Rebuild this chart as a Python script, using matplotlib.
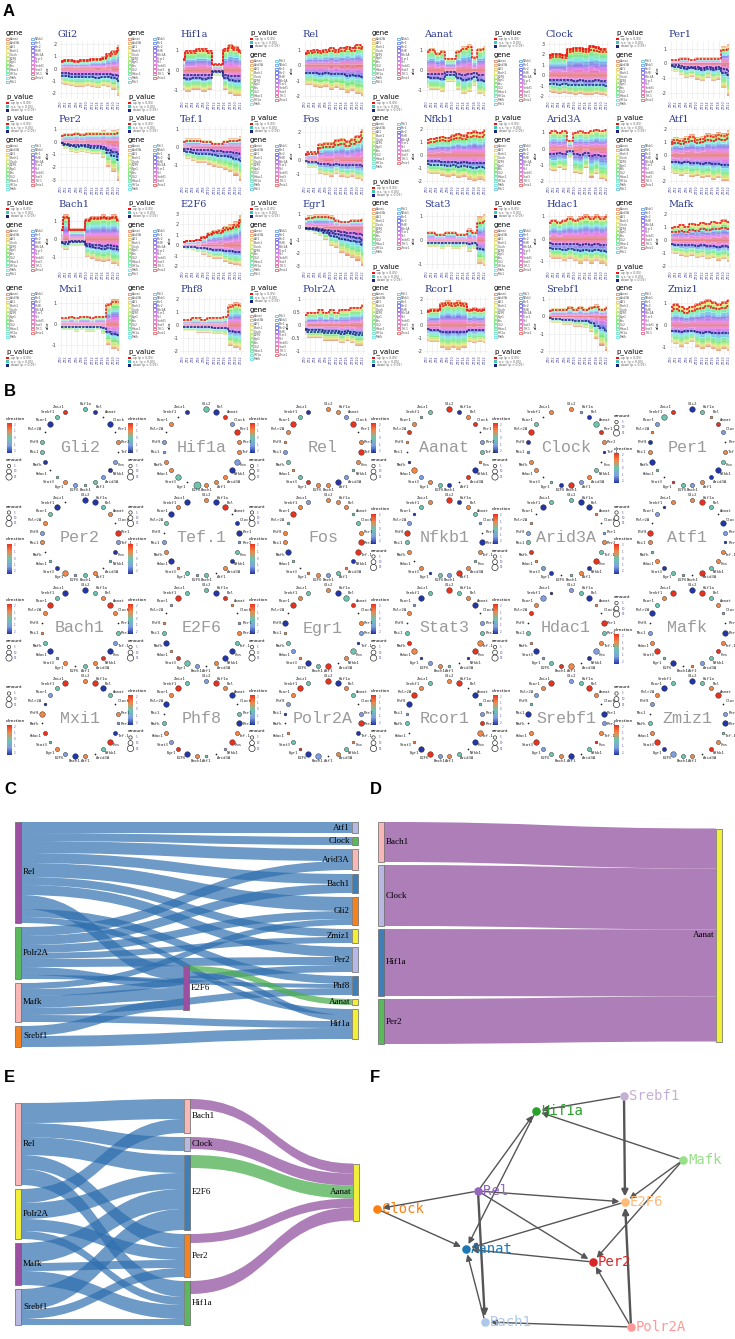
import colorsys
import numpy as np
import matplotlib
matplotlib.use("Agg")
import matplotlib.pyplot as plt
from matplotlib.patches import Rectangle, PathPatch, FancyArrowPatch
from matplotlib.path import Path
from matplotlib.colors import LinearSegmentedColormap

W, H = 735, 1339

# ---------------- data ----------------
genes = ["Gli2", "Hif1a", "Rel", "Aanat", "Clock", "Per1",
         "Per2", "Tef.1", "Fos", "Nfkb1", "Arid3A", "Atf1",
         "Bach1", "E2F6", "Egr1", "Stat3", "Hdac1", "Mafk",
         "Mxi1", "Phf8", "Polr2A", "Rcor1", "Srebf1", "Zmiz1"]
genes_alpha = sorted(genes, key=str.lower)

time_labels = ["ZT0", "ZT2", "ZT4", "ZT6", "ZT8", "ZT10",
               "ZT12", "ZT14", "ZT16", "ZT18", "ZT20", "ZT22"]
p_labels = ["up (p < 0.05)", "n.s. (p > 0.05)", "down (p < 0.05)"]

# panel A: stream envelopes (upper / lower edge) per time point
a_ticks = [[-2, -1, 0, 1, 2], [-1, 0, 1], [-2, -1, 0, 1], [-1, 0, 1], [-2, -1, 0, 1, 2, 3], [-2, -1, 0, 1],
           [-3, -2, -1, 0, 1], [-1, 0, 1], [-1, 0, 1, 2], [-2, -1, 0, 1, 2], [-2, -1, 0, 1], [-2, -1, 0, 1, 2],
           [-1, 0, 1], [-2, -1, 0, 1, 2, 3], [-3, -2, -1, 0, 1], [-1, 0, 1], [-1, 0, 1], [-2, -1, 0, 1, 2],
           [-1, 0, 1], [-2, -1, 0, 1, 2], [-1.0, -0.5, 0.0, 0.5, 1.0], [-2, -1, 0, 1, 2], [-2, -1, 0, 1], [-1, 0, 1]]
a_top = [
    [0.7, 0.8, 0.8, 0.7, 0.8, 0.8, 0.9, 0.9, 1.0, 1.3, 1.5, 1.9],
    [0.6, 1.0, 1.0, 1.1, 1.1, 1.0, 0.3, 0.3, 1.1, 1.3, 1.2, 1.0],
    [0.9, 1.0, 1.1, 1.0, 1.1, 1.2, 1.1, 1.2, 1.3, 1.2, 1.4, 1.3],
    [1.0, 1.1, 0.9, 1.0, 0.6, 0.6, 1.0, 1.2, 1.3, 0.7, 1.1, 1.2],
    [2.0, 2.1, 2.1, 2.0, 2.6, 2.7, 2.7, 2.6, 2.9, 2.8, 2.6, 2.6],
    [0.3, 0.3, 0.4, 0.4, 0.3, 0.4, 0.4, 0.4, 0.4, 0.4, 1.2, 1.3],
    [0.6, 0.7, 0.7, 0.8, 0.7, 0.8, 0.8, 0.8, 0.9, 0.8, 0.9, 1.0],
    [0.4, 0.5, 0.5, 0.5, 0.4, 0.4, 0.3, 0.3, 0.4, 0.5, 0.5, 0.6],
    [0.5, 0.6, 0.6, 1.2, 1.3, 1.3, 1.5, 1.6, 1.4, 1.6, 1.8, 2.2],
    [1.2, 1.3, 1.4, 1.5, 1.4, 1.6, 1.7, 1.6, 1.8, 1.9, 1.8, 2.0],
    [1.0, 1.1, 1.0, 1.1, 0.5, 1.0, 1.1, 1.0, 1.1, 1.2, 1.1, 1.2],
    [1.2, 1.4, 1.3, 1.5, 1.6, 1.4, 1.5, 1.7, 1.6, 1.8, 1.7, 1.9],
    [0.6, 1.4, 0.6, 0.6, 0.6, 1.2, 1.3, 1.3, 1.4, 1.3, 1.4, 1.2],
    [0.4, 0.5, 0.5, 0.6, 0.9, 1.3, 1.5, 1.6, 1.9, 2.0, 2.3, 2.9],
    [0.8, 0.9, 1.0, 1.0, 1.0, 0.9, 0.6, 0.5, 0.5, 0.6, 0.6, 0.7],
    [0.4, 0.4, 0.3, 0.3, 0.4, 0.4, 0.3, 0.3, 0.5, 0.4, 1.0, 1.1],
    [0.8, 0.9, 0.8, 0.9, 1.0, 0.9, 1.0, 1.1, 1.0, 1.1, 1.0, 1.1],
    [1.0, 1.1, 1.2, 1.1, 1.3, 1.2, 1.4, 1.3, 1.5, 1.4, 1.6, 1.5],
    [0.3, 0.3, 0.4, 0.3, 0.4, 0.4, 0.3, 0.4, 0.4, 1.0, 1.2, 1.2],
    [0.5, 0.5, 0.6, 0.6, 0.5, 0.6, 0.6, 0.6, 0.7, 1.6, 1.8, 1.7],
    [0.4, 0.5, 0.5, 0.6, 0.5, 0.6, 0.5, 0.6, 0.6, 0.7, 0.7, 0.8],
    [1.2, 1.3, 1.3, 1.8, 1.9, 1.8, 1.9, 1.8, 1.3, 1.4, 1.3, 1.4],
    [0.4, 0.5, 0.5, 0.5, 0.6, 0.5, 0.6, 0.5, 0.6, 0.7, 0.5, 0.6],
    [0.9, 1.0, 0.9, 0.8, 0.9, 1.0, 1.1, 1.2, 1.1, 1.0, 1.1, 1.2]]
a_bot = [
    [-1.2, -1.3, -1.4, -1.5, -1.5, -1.4, -1.5, -1.6, -1.4, -1.5, -1.7, -2.2],
    [-1.0, -1.1, -1.0, -1.0, -1.1, -1.0, -0.3, -0.3, -1.0, -1.2, -1.3, -1.3],
    [-1.3, -1.3, -1.4, -1.5, -1.4, -1.6, -1.5, -1.6, -1.8, -1.7, -1.9, -2.0],
    [-0.9, -1.0, -1.0, -1.1, -0.6, -0.6, -1.0, -1.2, -1.1, -0.8, -1.2, -1.3],
    [-1.6, -1.7, -1.8, -1.7, -1.8, -1.9, -1.8, -1.9, -1.9, -1.8, -1.9, -2.0],
    [-0.5, -0.6, -0.8, -1.0, -0.9, -1.1, -1.2, -1.0, -1.2, -1.1, -1.7, -2.2],
    [-0.3, -0.6, -0.8, -0.9, -0.8, -0.9, -1.0, -1.0, -1.3, -2.0, -2.4, -3.1],
    [-0.5, -0.7, -0.8, -0.9, -0.9, -1.0, -1.1, -1.2, -1.3, -1.4, -1.6, -1.9],
    [-0.4, -0.6, -0.6, -1.0, -1.1, -1.2, -1.0, -1.2, -1.3, -1.2, -1.4, -1.5],
    [-1.4, -1.5, -1.5, -1.6, -1.7, -1.6, -1.8, -1.7, -1.9, -2.0, -1.9, -2.0],
    [-1.3, -1.4, -1.2, -1.3, -0.6, -1.5, -1.6, -1.2, -1.8, -1.6, -1.9, -2.0],
    [-1.4, -1.5, -1.6, -1.5, -1.7, -1.6, -1.8, -1.7, -1.9, -1.8, -2.0, -2.0],
    [-0.5, -0.6, -0.4, -0.4, -0.4, -1.0, -1.1, -1.2, -1.3, -1.2, -1.4, -1.5],
    [-0.4, -0.5, -0.6, -0.7, -0.9, -1.1, -1.3, -1.3, -1.6, -1.8, -1.9, -2.0],
    [-0.3, -0.4, -0.5, -0.7, -1.0, -1.5, -1.6, -2.0, -2.2, -2.4, -2.6, -3.0],
    [-0.3, -0.3, -0.3, -0.4, -0.3, -0.4, -0.4, -0.3, -0.5, -0.4, -1.0, -1.1],
    [-0.8, -0.9, -0.9, -1.0, -0.9, -1.0, -1.1, -1.0, -1.1, -1.0, -1.1, -1.2],
    [-1.0, -1.1, -1.2, -1.3, -1.2, -1.4, -1.3, -1.5, -1.4, -1.6, -1.5, -1.7],
    [-0.3, -0.3, -0.3, -0.4, -0.3, -0.4, -0.4, -0.3, -0.5, -1.0, -1.2, -1.3],
    [-0.5, -0.5, -0.5, -0.6, -0.6, -0.6, -0.7, -0.7, -0.8, -1.6, -1.8, -1.9],
    [-0.4, -0.5, -0.5, -0.5, -0.6, -0.6, -0.6, -0.7, -0.6, -0.7, -0.8, -0.8],
    [-1.2, -1.3, -1.3, -1.8, -1.9, -1.8, -1.9, -1.8, -1.3, -1.4, -1.3, -1.4],
    [-0.3, -0.4, -0.4, -0.5, -0.5, -0.6, -0.6, -0.7, -0.9, -1.3, -1.7, -2.0],
    [-0.8, -0.9, -1.0, -0.9, -0.8, -1.0, -1.1, -1.0, -1.1, -1.2, -1.1, -1.2]]
layer_share = [1.0, 0.8, 1.2, 0.9, 1.1, 1.0, 0.7, 1.3, 0.9, 1.0, 1.1, 0.8,
               1.2, 1.0, 0.9, 1.1, 1.0, 0.8, 1.2, 0.9, 1.0, 1.1, 0.9]
# significant layers: up = counted from the upper edge, down = counted from zero downwards
a_red = [[2, 4], [1, 3], [1, 4], [2], [0, 1, 3], [5], [6], [8], [2, 6], [1, 5], [0], [3, 7],
         [2, 3], [3, 5], [4], [6], [2], [1, 9], [2], [3], [1], [2, 4], [5], [1, 6]]
a_blue = [[6, 10], [5, 9], [8], [4, 9], [6, 11], [5, 8], [7, 10], [4, 9], [6], [7, 11], [5], [8],
          [6, 9], [7], [4, 7, 10], [8], [5, 11], [7], [9], [6], [8, 11], [6], [9], [7]]
a_gene_first = [1, 1, 0, 1, 0, 0, 0, 0, 0, 1, 0, 0, 0, 0, 0, 1, 0, 1, 1, 1, 0, 1, 1, 1]

# panel B: direction class (B dark blue, l light blue, t teal, o orange, R red, k tiny) and amount class
b_dir = ["tBkBk oklBl ttlot kBttk BtR", "tBRlR oolBo ootkt oollk okB", "oolRk oRotl BooRt otloo RtB",
         "RBoRk ltoBR kBtol oBkoR ott", "olBtR oBkto lRBtk oolBR tko", "BtoRl kotBB oltRk tBoBo ltR",
         "BBtok RlBtk otloB tkolo tBk", "oBRkB BltBo ktlto Bolkt BoB", "ooott oRRBo tlook tBoot Rol",
         "RBotl kBoto RltBo kotRl Bto", "tBBok lotRB otkBl oRtlo kBt", "oRtkB lBoot RkltB otoRk lBo",
         "BtoRo ktlBR otkol Btoko RtB", "tBRok lotBB okltR oBtok lRt", "oBtRk olBto kRtBo ltoBk Rot",
         "RtoBk ltoRB ktolB oRtko lBt", "ltBok RtolB koRtl BotkR olB", "BRtol kBoRt lokBt RolkB toR",
         "oRBtk olBRt koBlo tRkoB ltR", "lRoBk tBoRl ktoBR lotkB oRt", "RBotk lRBot oklBR tokBl oRt",
         "oRkBt lRoBk tolRB oktlB Rot", "ltRok BloRt kBotl RokBt loR", "BtoRk lBtoR kotlB Rotkl oBt"]
b_size = ["22131 21222 21221 12221 322", "33223 22332 22413 22121 212", "22231 23212 32222 12212 322",
          "32221 22132 12222 31212 212", "21232 21122 23211 22123 212", "32122 12232 22212 13221 232",
          "33221 32212 22132 11222 232", "23312 31222 12121 32212 323", "22212 23321 22212 13221 322",
          "32221 13212 32212 12232 122", "23312 12232 21322 12221 132", "23213 21222 32122 21231 212",
          "32232 12232 22121 32122 323", "23212 12233 21232 13212 132", "23321 22132 13231 22131 322",
          "32231 22331 21221 32212 132", "22312 32232 13221 31212 231", "33221 13222 21231 32213 223",
          "23321 21232 12322 12131 223", "23231 23231 21232 22213 232", "33221 23212 21331 21312 232",
          "23131 22331 22233 12213 322", "22321 32212 13222 32131 223", "32231 23122 12232 32212 232"]
b_dir_first = [1, 1, 1, 1, 1, 0, 0, 0, 0, 1, 1, 0, 1, 1, 1, 1, 1, 0, 0, 1, 1, 1, 1, 0]
dir_ticks = ["2", "1", "0", "-1", "-2"]
amount_labels = ["5", "10", "15"]

# panel C / D / E: sankey links (source, target, value)
c_links = [("Rel", "Atf1", 11), ("Rel", "Clock", 8), ("Rel", "Arid3A", 12), ("Rel", "Bach1", 10),
           ("Rel", "Gli2", 14), ("Rel", "Zmiz1", 8), ("Rel", "Per2", 10), ("Rel", "Phf8", 8),
           ("Rel", "E2F6", 14), ("Rel", "Hif1a", 6),
           ("Polr2A", "Arid3A", 9), ("Polr2A", "Bach1", 9), ("Polr2A", "Gli2", 8), ("Polr2A", "Zmiz1", 6),
           ("Polr2A", "Per2", 8), ("Polr2A", "Phf8", 4), ("Polr2A", "E2F6", 8),
           ("Mafk", "Gli2", 6), ("Mafk", "Per2", 7), ("Mafk", "Phf8", 7), ("Mafk", "E2F6", 12), ("Mafk", "Hif1a", 7),
           ("Srebf1", "E2F6", 10), ("Srebf1", "Hif1a", 11),
           ("E2F6", "Aanat", 6), ("E2F6", "Hif1a", 6)]
c_columns = [["Rel", "Polr2A", "Mafk", "Srebf1"], ["E2F6"],
             ["Atf1", "Clock", "Arid3A", "Bach1", "Gli2", "Zmiz1", "Per2", "Phf8", "Aanat", "Hif1a"]]
d_links = [("Bach1", "Aanat", 40), ("Clock", "Aanat", 61), ("Hif1a", "Aanat", 67), ("Per2", "Aanat", 45)]
d_columns = [["Bach1", "Clock", "Hif1a", "Per2"], ["Aanat"]]
e_links = [("Rel", "Bach1", 20), ("Rel", "Clock", 14), ("Rel", "E2F6", 18), ("Rel", "Per2", 14), ("Rel", "Hif1a", 16),
           ("Polr2A", "Bach1", 14), ("Polr2A", "E2F6", 16), ("Polr2A", "Per2", 12), ("Polr2A", "Hif1a", 8),
           ("Mafk", "E2F6", 20), ("Mafk", "Per2", 8), ("Mafk", "Hif1a", 14),
           ("Srebf1", "E2F6", 21), ("Srebf1", "Per2", 9), ("Srebf1", "Hif1a", 6),
           ("Bach1", "Aanat", 10), ("Clock", "Aanat", 12), ("E2F6", "Aanat", 13), ("Per2", "Aanat", 9),
           ("Hif1a", "Aanat", 13)]
e_columns = [["Rel", "Polr2A", "Mafk", "Srebf1"], ["Bach1", "Clock", "E2F6", "Per2", "Hif1a"], ["Aanat"]]

# panel F: directed network (source, target, weight)
f_edges = [("Srebf1", "Hif1a", 1), ("Srebf1", "E2F6", 2), ("Mafk", "Hif1a", 1), ("Mafk", "E2F6", 1),
           ("Mafk", "Per2", 1), ("Rel", "Hif1a", 1), ("Hif1a", "Aanat", 1), ("Rel", "Clock", 1),
           ("Rel", "E2F6", 1), ("Rel", "Per2", 1), ("Rel", "Bach1", 2), ("Clock", "Aanat", 1),
           ("E2F6", "Aanat", 1), ("Per2", "Aanat", 1), ("Bach1", "Aanat", 1), ("Polr2A", "Bach1", 1),
           ("Polr2A", "Per2", 1), ("Polr2A", "E2F6", 2)]

# ---------------- styles / layout ----------------
fig = plt.figure(figsize=(W / 100, H / 100), dpi=100)


def px_axes(x, y, w, h):
    return fig.add_axes([x / W, 1 - (y + h) / H, w / W, h / H])


def hue_pal(n):
    cols = []
    for i in range(n):
        h = ((15 + 360 * i / n) % 360) / 360
        cols.append(colorsys.hls_to_rgb(h, 0.58, 0.72))
    return cols


gcol = dict(zip(genes_alpha, hue_pal(len(genes_alpha))))
p_colors = ["#ee1111", "#3ec6b6", "#1a237e"]
dir_cmap = LinearSegmentedColormap.from_list(
    "dir", ["#2236a8", "#7f9fe0", "#6cc4b0", "#f0884a", "#e8321e"])
dir_pos = {"B": 0.0, "l": 0.25, "t": 0.5, "o": 0.75, "R": 1.0}
size_pt = {"1": 4, "2": 9, "3": 16, "4": 26}

# ---------------- panel A: stream plots ----------------
for i, name in enumerate(genes):
    r, c = divmod(i, 6)
    ax = px_axes(58 + 122 * c, 41 + 85 * r, 64, 58)
    others = [g for g in genes_alpha if g != name]
    top = np.array(a_top[i])
    bot = np.array(a_bot[i])
    x = np.arange(len(top))
    share = np.array(layer_share)
    frac = np.concatenate([[0], np.cumsum(share)]) / share.sum()
    # positive part stacked from the top edge down to 0, negative part from the bottom edge up to 0
    upper = top[None, :] * (1 - frac[:, None])
    lower = bot[None, :] * (1 - frac[:, None])
    for j, g in enumerate(others):
        ax.fill_between(x, upper[j + 1], upper[j], step="mid", color=gcol[g], alpha=0.78,
                        ec="white", lw=0.15)
        ax.fill_between(x, lower[j], lower[j + 1], step="mid", color=gcol[g], alpha=0.78,
                        ec="white", lw=0.15)
    for j in a_red[i]:
        ax.step(x, (upper[j] + upper[j + 1]) / 2, where="mid", color=p_colors[0], lw=1.1,
                ls=(0, (1.6, 0.7)))
    for j in a_blue[i]:
        k = len(others) - 1 - j
        ax.step(x, (lower[k] + lower[k + 1]) / 2, where="mid", color=p_colors[2], lw=1.1,
                ls=(0, (1.6, 0.7)))
    ticks = a_ticks[i]
    lo = min(bot.min(), ticks[0])
    hi = max(top.max(), ticks[-1])
    pad = 0.06 * (hi - lo)
    ax.set_ylim(lo - pad, hi + pad)
    ax.set_xlim(-0.5, len(x) - 0.5)
    ax.set_yticks(ticks)
    ax.set_yticklabels([f"{t:g}" for t in ticks])
    ax.set_xticks(x)
    ax.set_xticklabels(time_labels, rotation=90)
    ax.tick_params(axis="y", length=0, labelsize=3.5, pad=1, colors="#444444")
    ax.tick_params(axis="x", length=0, labelsize=2.4, pad=1, colors="#4a4a9a")
    ax.set_ylabel("value", fontsize=2, labelpad=1)
    ax.grid(color="#e8e8e8", lw=0.4)
    ax.set_axisbelow(True)
    for s in ax.spines.values():
        s.set_visible(False)
    ax.text(0, 1.03, name, transform=ax.transAxes, fontsize=7, family="DejaVu Serif",
            color="#2b3a8c", va="bottom")

# overlay in pixel coordinates for everything else
ov = fig.add_axes([0, 0, 1, 1], zorder=5)
ov.set_xlim(0, W)
ov.set_ylim(H, 0)
ov.axis("off")
ov.patch.set_alpha(0)


def gene_legend(x0, y0, others):
    ov.text(x0, y0, "gene", fontsize=5, va="center")
    for k, g in enumerate(others):
        col, row = divmod(k, 12)
        xx = x0 + col * 25
        yy = y0 + 6 + row * 3.9
        ov.add_patch(Rectangle((xx, yy - 1.3), 2.6, 2.6, fc="white", ec=gcol[g], lw=0.5))
        ov.text(xx + 4, yy, g, fontsize=2.2, va="center", color="#555555")


def p_legend(x0, y0):
    ov.text(x0, y0, "p_value", fontsize=5, va="center")
    for k, (lab, col) in enumerate(zip(p_labels, p_colors)):
        yy = y0 + 6 + k * 3.6
        ov.add_patch(Rectangle((x0, yy - 1.4), 2.8, 2.8, fc=col, ec="none"))
        ov.text(x0 + 5, yy, lab, fontsize=2.2, va="center", color="#555555")


for i, name in enumerate(genes):
    r, c = divmod(i, 6)
    lx = 6 + 122 * c
    ty = 33 + 85 * r
    others = [g for g in genes_alpha if g != name]
    if a_gene_first[i]:
        gene_legend(lx, ty, others)
        p_legend(lx, ty + 64)
    else:
        p_legend(lx, ty)
        gene_legend(lx, ty + 22, others)

# ---------------- panel B: ring plots ----------------
ring_r = 38
for i, name in enumerate(genes):
    r, c = divmod(i, 6)
    cx = 80 + 121.5 * c
    cy = 447 + 90.5 * r
    others = [g for g in genes if g != name]
    dcode = b_dir[i].replace(" ", "")
    scode = b_size[i].replace(" ", "")
    ov.text(cx, cy, name, fontsize=12, family="Liberation Mono", color="#9a9a9a",
            ha="center", va="center")
    for k, g in enumerate(others):
        th = np.deg2rad(90 - (k + 0.5) * 15)
        nx = cx + ring_r * np.cos(th)
        ny = cy - ring_r * np.sin(th)
        d = dcode[k % len(dcode)]
        if d == "k":
            ov.scatter(nx, ny, s=1.5, color="#222222", lw=0, zorder=6)
        else:
            ov.scatter(nx, ny, s=size_pt[scode[k % len(scode)]], color=dir_cmap(dir_pos[d]),
                       edgecolors="#222222", linewidths=0.3, zorder=6)
        co, si = np.cos(th), np.sin(th)
        ha = "left" if co > 0.35 else ("right" if co < -0.35 else "center")
        va = "bottom" if si > 0.35 else ("top" if si < -0.35 else "center")
        ov.text(nx + 3 * co, ny - 3 * si, g, fontsize=2.8, family="DejaVu Sans Mono",
                color="#222222", ha=ha, va=va)
    lx = 6 + 121.5 * c

    def dir_legend(y0):
        ov.text(lx, y0, "direction", fontsize=3.2, va="center")
        n = 30
        for k in range(n):
            ov.add_patch(Rectangle((lx + 1, y0 + 4 + k * 1.0), 5, 1.1,
                                   fc=dir_cmap(1 - (k + 0.5) / n), ec="none"))
        for k, t in enumerate(dir_ticks):
            ov.text(lx + 8, y0 + 6 + k * 6.5, t, fontsize=2, color="#5555aa", va="center")

    def amount_legend(y0):
        ov.text(lx, y0, "amount", fontsize=3.2, va="center")
        for k, t in enumerate(amount_labels):
            yy = y0 + 6 + k * 5.5
            ov.scatter(lx + 3, yy, s=[6, 12, 20][k], facecolors="none", edgecolors="#333333",
                       linewidths=0.5)
            ov.text(lx + 8, yy, t, fontsize=2, color="#5555aa", va="center")

    if b_dir_first[i]:
        dir_legend(cy - 28)
        amount_legend(cy + 13)
    else:
        amount_legend(cy - 31)
        dir_legend(cy + 2)

# ---------------- panels C, D, E: sankey diagrams ----------------
node_w = 6


def band(x0, y0a, y0b, x1, y1a, y1b, color, alpha):
    xm = (x0 + x1) / 2
    verts = [(x0, y0a), (xm, y0a), (xm, y1a), (x1, y1a), (x1, y1b),
             (xm, y1b), (xm, y0b), (x0, y0b), (x0, y0a)]
    codes = [Path.MOVETO, Path.CURVE4, Path.CURVE4, Path.CURVE4, Path.LINETO,
             Path.CURVE4, Path.CURVE4, Path.CURVE4, Path.CLOSEPOLY]
    ov.add_patch(PathPatch(Path(verts, codes), fc=color, ec="none", alpha=alpha, zorder=3))


def sankey(columns, links, col_x, col_top, centers, pad, node_col, link_col, label_right):
    vin, vout = {}, {}
    for s, t, v in links:
        vout[s] = vout.get(s, 0) + v
        vin[t] = vin.get(t, 0) + v
    h, y0, xcol = {}, {}, {}
    for ci, col in enumerate(columns):
        y = col_top[ci]
        for n in col:
            h[n] = max(vin.get(n, 0), vout.get(n, 0))
            xcol[n] = col_x[ci]
            if n in centers:
                y0[n] = centers[n] - h[n] / 2
            else:
                y0[n] = y
                y += h[n] + pad
    src_off, tgt_off = {}, {}
    so = dict(y0)
    for n in y0:
        for li in sorted([k for k, l in enumerate(links) if l[0] == n], key=lambda k: y0[links[k][1]]):
            src_off[li] = so[n]
            so[n] += links[li][2]
    to = dict(y0)
    for n in y0:
        for li in sorted([k for k, l in enumerate(links) if l[1] == n], key=lambda k: y0[links[k][0]]):
            tgt_off[li] = to[n]
            to[n] += links[li][2]
    for li, (s, t, v) in enumerate(links):
        colr, alpha = link_col(s, t)
        band(xcol[s] + node_w, src_off[li], src_off[li] + v,
             xcol[t], tgt_off[li], tgt_off[li] + v, colr, alpha)
    for n in y0:
        ov.add_patch(Rectangle((xcol[n], y0[n]), node_w, h[n], fc=node_col[n], ec="#666666",
                               lw=0.5, zorder=4))
        if label_right(n):
            ov.text(xcol[n] + node_w + 2, y0[n] + h[n] / 2, n, fontsize=6.5, family="Liberation Serif",
                    ha="left", va="center", zorder=5)
        else:
            ov.text(xcol[n] - 2, y0[n] + h[n] / 2, n, fontsize=6.5, family="Liberation Serif",
                    ha="right", va="center", zorder=5)


BLUE, PURPLE, GREEN = "#2f6fae", "#9a5ea6", "#4caf50"

c_node_col = {"Rel": "#9b4f9f", "Polr2A": "#5cb85c", "Mafk": "#f8b8b8", "Srebf1": "#f58220",
              "E2F6": "#9b4f9f", "Atf1": "#b8b8e8", "Clock": "#5cb85c", "Arid3A": "#f8b8b8",
              "Bach1": "#3f7fb8", "Gli2": "#f58220", "Zmiz1": "#f2ef3a", "Per2": "#b8b8e8",
              "Phf8": "#3f7fb8", "Aanat": "#f2ef3a", "Hif1a": "#f2ef3a"}
sankey(c_columns, c_links, [15, 183, 352], [822, 0, 822], {"E2F6": 988}, 4, c_node_col,
       lambda s, t: (GREEN, 0.75) if (s, t) == ("E2F6", "Aanat") else (BLUE, 0.7),
       lambda n: n not in c_columns[2])

d_node_col = {"Bach1": "#f8b8b8", "Clock": "#b8b8e0", "Hif1a": "#3f7fb8", "Per2": "#5cb85c",
              "Aanat": "#f2ef3a"}
sankey(d_columns, d_links, [378, 716], [822, 0], {"Aanat": 935}, 3, d_node_col,
       lambda s, t: (PURPLE, 0.8), lambda n: n != "Aanat")

e_node_col = {"Rel": "#f8b8b8", "Polr2A": "#f2ef3a", "Mafk": "#9b4f9f", "Srebf1": "#b8b8e0",
              "Bach1": "#f8b8b8", "Clock": "#b8b8e0", "E2F6": "#3f7fb8", "Per2": "#f58220",
              "Hif1a": "#5cb85c", "Aanat": "#f2ef3a"}
sankey(e_columns, e_links, [15, 184, 353], [1103, 1099, 0], {"Aanat": 1192}, 4, e_node_col,
       lambda s, t: (GREEN, 0.75) if (s, t) == ("E2F6", "Aanat")
       else ((PURPLE, 0.8) if t == "Aanat" else (BLUE, 0.7)),
       lambda n: n != "Aanat")

# ---------------- panel F: network ----------------
f_pos = {"Srebf1": (624, 1096), "Hif1a": (536, 1111), "Mafk": (683, 1160), "Rel": (478, 1191),
         "E2F6": (625, 1202), "Clock": (377, 1209), "Aanat": (466, 1249), "Per2": (593, 1262),
         "Bach1": (485, 1322), "Polr2A": (631, 1327)}
f_col = {"Srebf1": "#c5b0d5", "Hif1a": "#2ca02c", "Mafk": "#98df8a", "Rel": "#9467bd",
         "E2F6": "#ffbb78", "Clock": "#ff7f0e", "Aanat": "#1f77b4", "Per2": "#d62728",
         "Bach1": "#aec7e8", "Polr2A": "#ff9896"}
for s, t, wgt in f_edges:
    ov.add_patch(FancyArrowPatch(f_pos[s], f_pos[t], arrowstyle="-|>", mutation_scale=9,
                                 shrinkA=3, shrinkB=4, color="#555555", lw=1.0 + 0.7 * (wgt - 1),
                                 zorder=6))
for n, (x, y) in f_pos.items():
    ov.scatter(x, y, s=38, color=f_col[n], zorder=7, lw=0)
    ov.text(x + 5, y, n, fontsize=10, family="DejaVu Sans Mono", color=f_col[n],
            ha="left", va="center", zorder=8)

# ---------------- panel letters ----------------
for lab, (x, y) in {"A": (3, 12), "B": (4, 391), "C": (4, 789), "D": (370, 789),
                    "E": (4, 1078), "F": (370, 1078)}.items():
    ov.text(x, y, lab, fontsize=12, fontweight="bold", family="Liberation Sans", va="center")

fig.savefig("out.png", dpi=100)
